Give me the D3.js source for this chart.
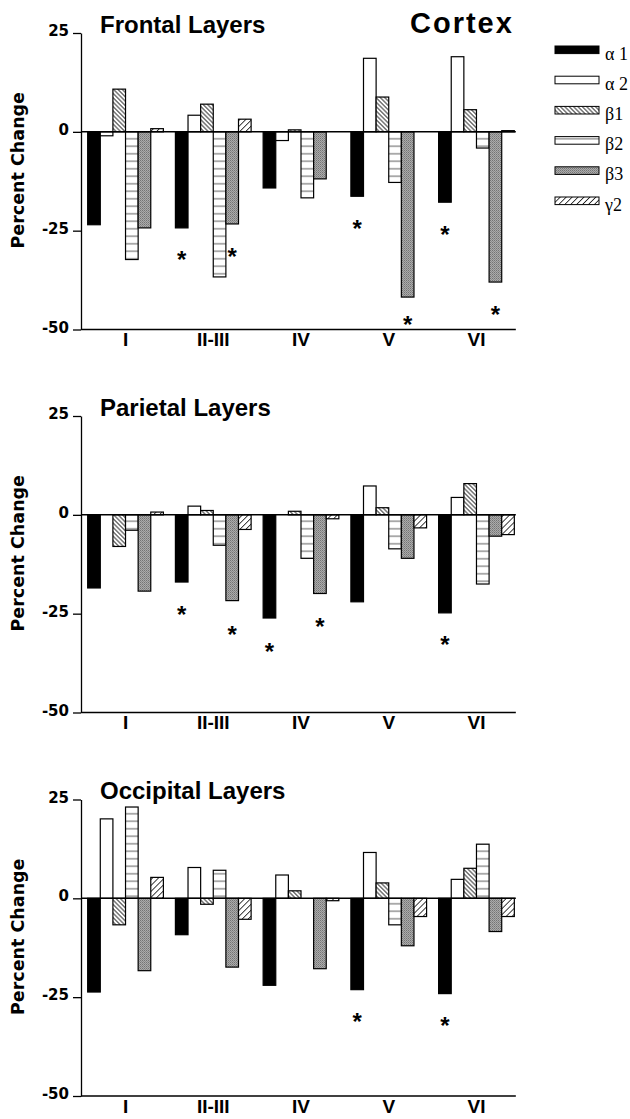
<!DOCTYPE html>
<html><head><meta charset="utf-8">
<script src="https://cdn.jsdelivr.net/npm/d3@7"></script>
<style>body{margin:0;background:#fff}</style></head><body>
<svg id="c" width="630" height="1119"></svg>
<script>
const categories = ["I", "II-III", "IV", "V", "VI"];
const series = ["α1", "α2", "β1", "β2", "β3", "γ2"];
const legendLabels = ["α 1", "α 2", "β1", "β2", "β3", "γ2"];
const yTicks = [25, 0, -25, -50];

// Frontal layers (values per category I..VI)
const frontalA1 = [-23.5, -24.3, -14.2, -16.3, -17.8];
const frontalA2 = [-1.0, 4.2, -2.2, 18.6, 19.0];
const frontalB1 = [10.8, 7.0, 0.5, 8.8, 5.6];
const frontalB2 = [-32.3, -36.7, -16.7, -12.8, -4.1];
const frontalB3 = [-24.3, -23.3, -11.9, -41.8, -38.0];
const frontalG2 = [0.8, 3.2, 0, 0, 0.3];
const frontalStars = [
  {cat: "II-III", s: "α1", v: -31.1}, {cat: "II-III", s: "β3", v: -30.3},
  {cat: "V", s: "α1", v: -23.1}, {cat: "V", s: "β3", v: -47.5},
  {cat: "VI", s: "α1", v: -24.7}, {cat: "VI", s: "β3", v: -45.0}
];

// Parietal layers
const parietalA1 = [-18.5, -17.0, -26.1, -22.0, -24.8];
const parietalA2 = [0, 2.2, 0, 7.3, 4.4];
const parietalB1 = [-8.0, 1.1, 0.9, 1.8, 7.9];
const parietalB2 = [-3.9, -7.7, -11.0, -8.6, -17.5];
const parietalB3 = [-19.3, -21.7, -19.9, -11.0, -5.4];
const parietalG2 = [0.7, -3.7, -1.0, -3.3, -5.0];
const parietalStars = [
  {cat: "II-III", s: "α1", v: -23.9}, {cat: "II-III", s: "β3", v: -28.9},
  {cat: "IV", s: "α1", v: -33.2}, {cat: "IV", s: "β3", v: -26.9},
  {cat: "VI", s: "α1", v: -31.5}
];

// Occipital layers
const occipitalA1 = [-23.7, -9.2, -22.0, -23.1, -24.1];
const occipitalA2 = [20.1, 7.8, 5.9, 11.6, 4.8];
const occipitalB1 = [-6.7, -1.5, 1.9, 3.9, 7.6];
const occipitalB2 = [23.1, 7.1, 0, -6.7, 13.7];
const occipitalB3 = [-18.3, -17.4, -17.8, -12.0, -8.4];
const occipitalG2 = [5.3, -5.3, -0.6, -4.6, -4.6];
const occipitalStars = [
  {cat: "V", s: "α1", v: -29.8}, {cat: "VI", s: "α1", v: -30.8}
];

const panels = [
  {title: "Frontal Layers", top: 33, rows: [frontalA1, frontalA2, frontalB1, frontalB2, frontalB3, frontalG2], stars: frontalStars},
  {title: "Parietal Layers", top: 416, rows: [parietalA1, parietalA2, parietalB1, parietalB2, parietalB3, parietalG2], stars: parietalStars},
  {title: "Occipital Layers", top: 799.5, rows: [occipitalA1, occipitalA2, occipitalB1, occipitalB2, occipitalB3, occipitalG2], stars: occipitalStars}
];

const svg = d3.select("#c");
const defs = svg.append("defs");

// patterns
function hatch(id, spacing, angle, sw) {
  const p = defs.append("pattern").attr("id", id).attr("patternUnits", "userSpaceOnUse")
    .attr("width", spacing).attr("height", 10).attr("patternTransform", `rotate(${angle})`);
  p.append("rect").attr("width", spacing).attr("height", 10).attr("fill", "#fff");
  p.append("line").attr("x1", spacing / 2).attr("x2", spacing / 2).attr("y1", 0).attr("y2", 10)
    .attr("stroke", "#000").attr("stroke-width", sw);
}
hatch("pB1", 3.1, -45, 0.8);
hatch("pG2", 4.2, 45, 0.8);
{
  const p = defs.append("pattern").attr("id", "pB2").attr("patternUnits", "userSpaceOnUse")
    .attr("width", 10).attr("height", 7.5);
  p.append("rect").attr("width", 10).attr("height", 7.5).attr("fill", "#fff");
  p.append("line").attr("x1", 0).attr("x2", 10).attr("y1", 3.75).attr("y2", 3.75)
    .attr("stroke", "#444").attr("stroke-width", 0.9);
}
{
  const p = defs.append("pattern").attr("id", "pB3").attr("patternUnits", "userSpaceOnUse")
    .attr("width", 2).attr("height", 2);
  p.append("rect").attr("width", 2).attr("height", 2).attr("fill", "#ababab");
  p.append("rect").attr("width", 1).attr("height", 1).attr("fill", "#747474");
  p.append("rect").attr("x", 1).attr("y", 1).attr("width", 1).attr("height", 1).attr("fill", "#8a8a8a");
}
const fills = ["#000", "#fff", "url(#pB1)", "url(#pB2)", "url(#pB3)", "url(#pG2)"];
const fillScale = d3.scaleOrdinal().domain(series).range(fills);

const axisX = 81;
const x0 = d3.scaleBand().domain(categories).range([axisX, 521]).paddingInner(0.137).paddingOuter(0.076);
const x1 = d3.scaleBand().domain(series).range([0, x0.bandwidth()]);
const lineEnd = x0(categories[categories.length - 1]) + x0.bandwidth() + 1.5;

panels.forEach(pn => {
  const bottom = pn.top + 296.5;
  const y = d3.scaleLinear().domain([-50, 25]).range([bottom, pn.top]);
  const g = svg.append("g");

  // y axis
  const ya = g.append("g").attr("transform", `translate(${axisX},0)`)
    .call(d3.axisLeft(y).tickValues(yTicks).tickSize(8).tickSizeOuter(0).tickPadding(4).tickFormat(d => String(d)));
  ya.selectAll("path, line").attr("stroke", "#000").attr("stroke-width", 1.3);
  ya.selectAll("text").attr("font-family", "DejaVu Sans").attr("font-weight", "bold")
    .attr("font-size", 15).attr("fill", "#000").attr("dy", "0.17em");

  // x axis labels
  const xa = g.append("g").attr("transform", `translate(0,${bottom})`)
    .call(d3.axisBottom(x0).tickSize(0).tickPadding(3));
  xa.select(".domain").remove();
  xa.selectAll("text").attr("font-family", "Liberation Sans, Arial").attr("font-weight", "bold")
    .attr("font-size", 19).attr("fill", "#000");

  // baseline lines
  g.append("line").attr("x1", axisX).attr("x2", lineEnd).attr("y1", y(-50)).attr("y2", y(-50))
    .attr("stroke", "#000").attr("stroke-width", 1.5);

  // bars
  const data = [];
  pn.rows.forEach((row, si) => row.forEach((v, ci) => data.push({cat: categories[ci], s: series[si], v})));
  g.append("g").selectAll("rect").data(data.filter(d => d.v !== 0)).join("rect")
    .attr("x", d => x0(d.cat) + x1(d.s))
    .attr("width", x1.bandwidth())
    .attr("y", d => Math.min(y(d.v), y(0)))
    .attr("height", d => Math.abs(y(d.v) - y(0)))
    .attr("fill", d => fillScale(d.s))
    .attr("stroke", "#000").attr("stroke-width", 1.2);

  // zero line
  g.append("line").attr("x1", axisX).attr("x2", lineEnd).attr("y1", y(0)).attr("y2", y(0))
    .attr("stroke", "#000").attr("stroke-width", 1.5);

  // stars
  g.append("g").selectAll("text").data(pn.stars).join("text")
    .attr("x", d => x0(d.cat) + x1(d.s) + x1.bandwidth() / 2)
    .attr("y", d => y(d.v) + 13.7)
    .attr("text-anchor", "middle")
    .attr("font-family", "Liberation Sans, Arial").attr("font-weight", "bold").attr("font-size", 24).attr("fill", "#000")
    .text("*");

  // title
  g.append("text").attr("x", 100).attr("y", pn.top - 0.5)
    .attr("font-family", "Liberation Sans, Arial").attr("font-weight", "bold").attr("font-size", 24)
    .attr("fill", "#000").text(pn.title);

  // y label
  g.append("text").attr("transform", `translate(24,${(pn.top + bottom) / 2 - 11}) rotate(-90)`)
    .attr("text-anchor", "middle").attr("font-family", "DejaVu Sans").attr("font-weight", "bold")
    .attr("font-size", 17.5).attr("fill", "#000").text("Percent Change");
});

// Cortex heading
svg.append("text").attr("x", 410).attr("y", 33)
  .attr("font-family", "Liberation Sans, Arial").attr("font-weight", "bold").attr("font-size", 29)
  .attr("letter-spacing", 2).attr("fill", "#000").text("Cortex");

// legend
const ly = d3.scalePoint().domain(series).range([46, 197]);
const lg = svg.append("g");
lg.selectAll("rect").data(series).join("rect")
  .attr("x", 555).attr("y", d => ly(d)).attr("width", 44).attr("height", 7.6)
  .attr("fill", d => fillScale(d)).attr("stroke", "#000").attr("stroke-width", 1);
lg.selectAll("text").data(series).join("text")
  .attr("x", 605).attr("y", d => ly(d) + 13.6)
  .attr("font-family", "Liberation Serif, Times New Roman, serif").attr("font-size", 18).attr("fill", "#000")
  .text((d, i) => legendLabels[i]);
</script>
</body></html>
